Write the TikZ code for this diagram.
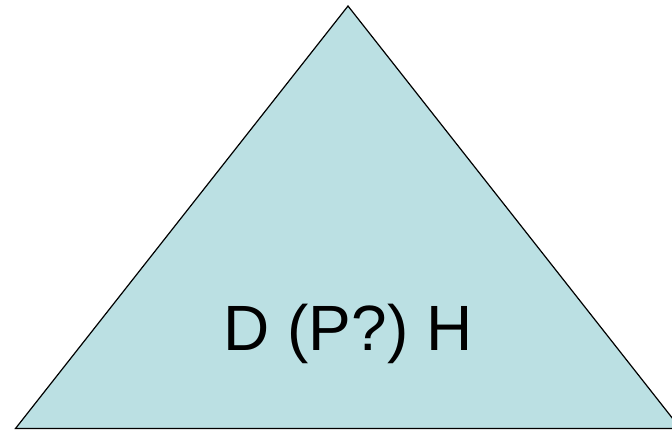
\documentclass[tikz,border=0pt]{standalone}
\usepackage{fontspec}
\setmainfont{Liberation Sans}
\definecolor{trifill}{RGB}{187,224,227}
\begin{document}
\begin{tikzpicture}[x=1pt,y=-1pt,
  tri/.style={fill=trifill,draw=black,line width=1.2pt,line join=miter},
  lbl/.style={font=\fontsize{64}{72}\selectfont,text=black,inner sep=0pt,anchor=base}]
\useasboundingbox (0,0) rectangle (672,430);
\clip (0,0) rectangle (672,430);
\coordinate (apex) at (348,6);
\coordinate (bl) at (15.5,428.5);
\coordinate (br) at (680.5,428.5);
\draw[tri] (apex) -- (bl) -- (br) -- cycle;
\node[lbl] (label) at (348,350) {D (P?) H};
\end{tikzpicture}
\end{document}
